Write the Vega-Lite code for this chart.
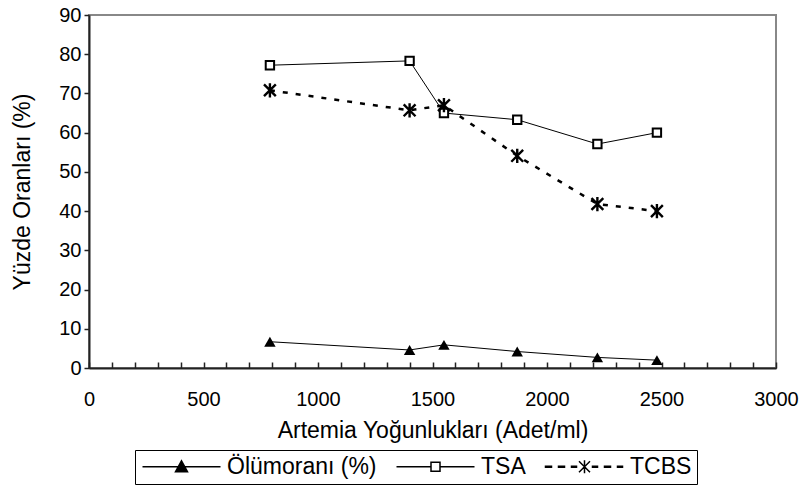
{
  "$schema": "https://vega.github.io/schema/vega-lite/v6.json",
  "width": 687,
  "height": 353,
  "autosize": "none",
  "padding": {"left": 89, "top": 15, "right": 24, "bottom": 119},
  "background": "white",
  "config": {
    "font": "Liberation Sans",
    "view": {"stroke": "#888888", "strokeWidth": 2},
    "axis": {"grid": false, "labelColor": "black", "titleColor": "black", "labelFont": "Liberation Sans", "titleFont": "Liberation Sans", "titleFontWeight": "normal", "domainColor": "#222222", "domainWidth": 2, "tickColor": "#222222", "tickWidth": 1.5}
  },
  "data": {
    "values": [
      {"x": 790, "value": 6.7, "series": "Ölümoranı (%)"},
      {"x": 1400, "value": 4.6, "series": "Ölümoranı (%)"},
      {"x": 1550, "value": 5.9, "series": "Ölümoranı (%)"},
      {"x": 1870, "value": 4.2, "series": "Ölümoranı (%)"},
      {"x": 2220, "value": 2.7, "series": "Ölümoranı (%)"},
      {"x": 2480, "value": 2.0, "series": "Ölümoranı (%)"},
      {"x": 790, "value": 77.2, "series": "TSA"},
      {"x": 1400, "value": 78.3, "series": "TSA"},
      {"x": 1550, "value": 65.0, "series": "TSA"},
      {"x": 1870, "value": 63.3, "series": "TSA"},
      {"x": 2220, "value": 57.1, "series": "TSA"},
      {"x": 2480, "value": 60.0, "series": "TSA"},
      {"x": 790, "value": 70.8, "series": "TCBS"},
      {"x": 1400, "value": 65.7, "series": "TCBS"},
      {"x": 1550, "value": 67.0, "series": "TCBS"},
      {"x": 1870, "value": 54.1, "series": "TCBS"},
      {"x": 2220, "value": 41.8, "series": "TCBS"},
      {"x": 2480, "value": 40.0, "series": "TCBS"}
    ]
  },
  "encoding": {
    "x": {
      "field": "x", "type": "quantitative",
      "scale": {"domain": [0, 3000], "nice": false, "zero": true},
      "axis": {
        "title": "Artemia Yoğunlukları (Adet/ml)",
        "titleFontSize": 23, "titlePadding": 10,
        "values": [0,100,200,300,400,500,600,700,800,900,1000,1100,1200,1300,1400,1500,1600,1700,1800,1900,2000,2100,2200,2300,2400,2500,2600,2700,2800,2900,3000],
        "labelExpr": "datum.value % 500 === 0 ? datum.value : ''",
        "labelFontSize": 20, "labelPadding": 27, "tickSize": -6, "labelFlush": false, "labelOverlap": false
      }
    },
    "y": {
      "field": "value", "type": "quantitative",
      "scale": {"domain": [0, 90], "nice": false},
      "axis": {
        "title": "Yüzde Oranları (%)", "titleFontSize": 23, "titlePadding": 24,
        "values": [0,10,20,30,40,50,60,70,80,90],
        "labelFontSize": 20, "labelPadding": 3, "tickSize": 5
      }
    }
  },
  "layer": [
    {"transform": [{"filter": "datum.series === 'Ölümoranı (%)'"}], "mark": {"type": "line", "color": "black", "strokeWidth": 1}},
    {"transform": [{"filter": "datum.series === 'TSA'"}], "mark": {"type": "line", "color": "black", "strokeWidth": 1}},
    {"transform": [{"filter": "datum.series === 'TCBS'"}], "mark": {"type": "line", "color": "black", "strokeWidth": 2.5, "strokeDash": [5, 8]}},
    {"transform": [{"filter": "datum.series === 'Ölümoranı (%)'"}], "mark": {"type": "point", "shape": "triangle-up", "filled": true, "color": "black", "size": 130, "opacity": 1}},
    {"transform": [{"filter": "datum.series === 'TSA'"}], "mark": {"type": "point", "shape": "square", "fill": "white", "stroke": "black", "strokeWidth": 2, "size": 70, "opacity": 1}},
    {"transform": [{"filter": "datum.series === 'TCBS'"}], "mark": {"type": "point", "shape": "M-1,-1L1,1M-1,1L1,-1M0,-1.2V1.2", "stroke": "black", "strokeWidth": 2.4, "size": 140, "opacity": 1}},
    {
      "transform": [{"filter": "false"}],
      "mark": {"type": "point", "stroke": "black", "strokeWidth": 1.5, "opacity": 1},
      "encoding": {
        "shape": {
          "field": "series", "type": "nominal",
          "scale": {"domain": ["Ölümoranı (%)", "TSA", "TCBS"], "range": [
            "M-7.8,0H7.8M0,-1.2L1.2,1L-1.2,1Z",
            "M-7.8,0H-0.9M0.9,0H7.8M-0.9,-0.9H0.9V0.9H-0.9Z",
            "M-7.8,-0.12H-6.6V0.12H-7.8ZM-5.2,-0.12H-4V0.12H-5.2ZM-2.6,-0.12H-1.6V0.12H-2.6ZM1.6,-0.12H2.6V0.12H1.6ZM4,-0.12H5.2V0.12H4ZM6.6,-0.12H7.6V0.12H6.6ZM-1.1,-1.1L1.1,1.1M-1.1,1.1L1.1,-1.1M0,-1.3V1.3"
          ]},
          "legend": {"orient": "none", "legendX": 46, "legendY": 435, "direction": "horizontal", "title": null, "strokeColor": "black", "padding": 5, "symbolSize": 100, "symbolOffset": 30, "labelOffset": 34, "labelFontSize": 23, "labelColor": "black", "labelFont": "Liberation Sans", "columnPadding": 16, "symbolOpacity": 1,
            "encode": {"symbols": {"update": {"stroke": {"value": "black"}, "strokeWidth": {"value": 1.4}}}}}
        },
        "fill": {
          "field": "series", "type": "nominal",
          "scale": {"domain": ["Ölümoranı (%)", "TSA", "TCBS"], "range": ["black", "white", "black"]},
          "legend": {"orient": "none", "legendX": 46, "legendY": 435, "direction": "horizontal", "title": null, "strokeColor": "black", "padding": 5, "symbolSize": 100, "symbolOffset": 30, "labelOffset": 34, "labelFontSize": 23, "labelColor": "black", "labelFont": "Liberation Sans", "columnPadding": 16, "symbolOpacity": 1,
            "encode": {"symbols": {"update": {"stroke": {"value": "black"}, "strokeWidth": {"value": 1.4}}}}}
        }
      }
    }
  ]
}
